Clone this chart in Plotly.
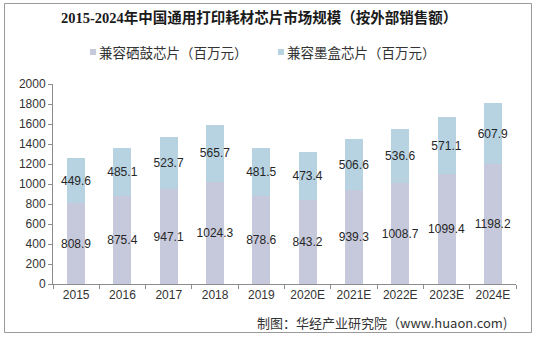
import plotly.graph_objects as go

# 年份（含预测年份）与两类芯片市场规模（百万元）
years = ["2015", "2016", "2017", "2018", "2019", "2020E", "2021E", "2022E", "2023E", "2024E"]
drum_chip = [808.9, 875.4, 947.1, 1024.3, 878.6, 843.2, 939.3, 1008.7, 1099.4, 1198.2]
cartridge_chip = [449.6, 485.1, 523.7, 565.7, 481.5, 473.4, 506.6, 536.6, 571.1, 607.9]

series_names = ["兼容硒鼓芯片（百万元）", "兼容墨盒芯片（百万元）"]
series_colors = ["#c6c9db", "#b7d3e2"]
y_ticks = [0, 200, 400, 600, 800, 1000, 1200, 1400, 1600, 1800, 2000]

W, H = 536, 337
L, R, T, B = 53, 20, 84, 53
pw, ph = W - L - R, H - T - B


def px_x(x):
    return (x - L) / pw


def px_y(y):
    return (H - B - y) / ph


label_font = dict(family="Liberation Sans, Arial, sans-serif", size=12, color="#262626")

fig = go.Figure()
for name, vals, color in zip(series_names, [drum_chip, cartridge_chip], series_colors):
    fig.add_trace(go.Bar(
        x=years, y=vals, name=name,
        marker=dict(color=color, line=dict(width=0)),
        width=0.39,
        text=[f"{v:.1f}" for v in vals],
        textposition="inside",
        insidetextanchor="middle",
        constraintext="none",
        textangle=0,
        textfont=label_font,
        hoverinfo="x+y+name",
        showlegend=False,
    ))

# 图例：小方块 + 文字
legend_items = [(93, 97), (281, 285)]
shapes = [dict(
    type="rect", xref="paper", yref="paper",
    x0=px_x(4.5), x1=px_x(531.5), y0=px_y(332.5), y1=px_y(3.5),
    line=dict(color="#9a9a9a", width=1), fillcolor="rgba(0,0,0,0)", layer="below",
)]
annotations = [
    dict(
        text="<b>2015-2024年中国通用打印耗材芯片市场规模（按外部销售额）</b>",
        xref="paper", yref="paper", x=px_x(259), y=px_y(18),
        xanchor="center", yanchor="middle", showarrow=False,
        font=dict(family="Liberation Serif, Noto Sans CJK SC, serif", size=14.5, color="#1a1a1a"),
    ),
    dict(
        text="制图：华经产业研究院（www.huaon.com)",
        xref="paper", yref="paper", x=px_x(509), y=px_y(322),
        xanchor="right", yanchor="middle", showarrow=False,
        font=dict(family="Noto Sans CJK SC, sans-serif", size=13, color="#333"),
    ),
]
for (mx, tx), name, color in zip(legend_items, series_names, series_colors):
    shapes.append(dict(
        type="rect", xref="paper", yref="paper",
        x0=px_x(mx - 3), x1=px_x(mx + 3), y0=px_y(55), y1=px_y(49),
        line=dict(width=0), fillcolor=color,
    ))
    annotations.append(dict(
        text=name, xref="paper", yref="paper", x=px_x(tx), y=px_y(52),
        xanchor="left", yanchor="middle", showarrow=False,
        font=dict(family="Noto Sans CJK SC, sans-serif", size=13.5, color="#333"),
    ))

fig.update_layout(
    width=W, height=H,
    margin=dict(l=L, r=R, t=T, b=B),
    barmode="stack",
    plot_bgcolor="white", paper_bgcolor="white",
    font=dict(family="Liberation Sans, Noto Sans CJK SC, sans-serif", size=12, color="#333"),
    showlegend=False,
    xaxis=dict(
        type="category", showline=True, linecolor="#8c8c8c", linewidth=1,
        ticks="outside", tickson="boundaries", ticklen=4, tickcolor="#8c8c8c",
        tickfont=dict(family="Liberation Sans, Arial, sans-serif", size=12, color="#333"),
        showgrid=False, zeroline=False,
    ),
    yaxis=dict(
        range=[0, 2000], tickvals=y_ticks, showline=True, linecolor="#8c8c8c", linewidth=1,
        ticks="outside", ticklen=4, tickcolor="#8c8c8c",
        tickfont=dict(family="Liberation Sans, Arial, sans-serif", size=12, color="#333"),
        showgrid=False, zeroline=False,
    ),
    shapes=shapes,
    annotations=annotations,
)

fig.write_html("out.html")
